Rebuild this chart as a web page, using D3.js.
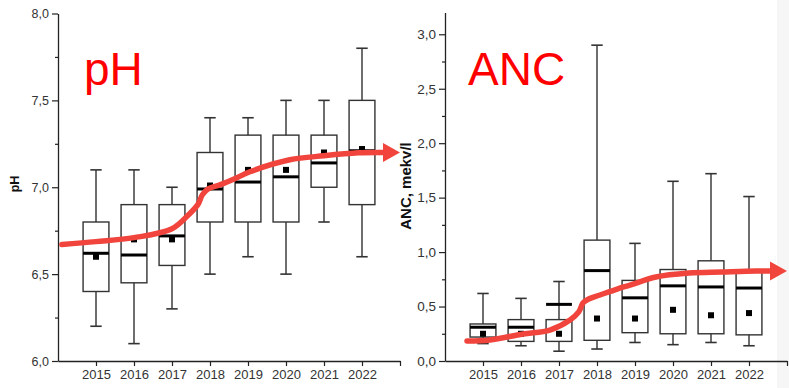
<!DOCTYPE html>
<html>
<head>
<meta charset="utf-8">
<script src="https://cdn.jsdelivr.net/npm/d3@7"></script>
<style>
  html, body { margin: 0; padding: 0; background: #fff; }
  svg { display: block; font-family: "Liberation Sans", Arial, sans-serif; }
</style>
</head>
<body>
<svg id="chart" width="789" height="388"></svg>
<script>
// Sampling years shown on both panels
const years = [2015, 2016, 2017, 2018, 2019, 2020, 2021, 2022];
const yearLabels = ["2015", "2016", "2017", "2018", "2019", "2020", "2021", "2022"];

// pH box statistics per year
const phLow    = [6.2, 6.1, 6.3, 6.5, 6.6, 6.5, 6.8, 6.6];
const phQ1     = [6.4, 6.45, 6.55, 6.8, 6.8, 6.8, 7.0, 6.9];
const phMedian = [6.62, 6.61, 6.72, 6.99, 7.03, 7.06, 7.14, 7.21];
const phQ3     = [6.8, 6.9, 6.9, 7.2, 7.3, 7.3, 7.3, 7.5];
const phHigh   = [7.1, 7.1, 7.0, 7.4, 7.4, 7.5, 7.5, 7.8];
const phMean   = [6.6, 6.7, 6.7, 7.01, 7.1, 7.1, 7.2, 7.22];
const phTicks  = [6.0, 6.5, 7.0, 7.5, 8.0];
const phMinor  = [6.25, 6.75, 7.25, 7.75];

// ANC box statistics per year (mekv/l)
const ancLow    = [0.16, 0.14, 0.09, 0.11, 0.17, 0.15, 0.17, 0.14];
const ancQ1     = [0.22, 0.18, 0.18, 0.19, 0.26, 0.25, 0.25, 0.24];
const ancMedian = [0.31, 0.31, 0.52, 0.83, 0.58, 0.69, 0.68, 0.67];
const ancQ3     = [0.34, 0.38, 0.38, 1.11, 0.74, 0.84, 0.92, 0.83];
const ancHigh   = [0.62, 0.575, 0.73, 2.9, 1.08, 1.65, 1.72, 1.51];
const ancMean   = [0.25, 0.25, 0.25, 0.39, 0.39, 0.47, 0.42, 0.44];
const ancTicks  = [0.0, 0.5, 1.0, 1.5, 2.0, 2.5, 3.0];
const ancMinor  = [0.25, 0.75, 1.25, 1.75, 2.25, 2.75];

// Hand-drawn trend arrows (year, value)
const phTrendYears  = [2014.1, 2015.0, 2016.0, 2017.0, 2017.45, 2017.68, 2017.8, 2017.95, 2018.26, 2018.71, 2019.05, 2020.1, 2021.0, 2021.9, 2022.45];
const phTrendValues = [6.67, 6.687, 6.71, 6.761, 6.845, 6.9, 6.957, 6.991, 7.014, 7.055, 7.089, 7.158, 7.181, 7.198, 7.2];
const ancTrendYears  = [2014.58, 2015.18, 2016.05, 2016.76, 2017.29, 2017.52, 2017.63, 2017.78, 2018.08, 2018.53, 2018.87, 2019.55, 2020.42, 2021.29, 2022.18, 2022.6];
const ancTrendValues = [0.183, 0.193, 0.248, 0.284, 0.376, 0.45, 0.532, 0.569, 0.606, 0.661, 0.697, 0.771, 0.807, 0.817, 0.826, 0.826];

const svg = d3.select("#chart");
const RED = "#f0443c";
const commaFmt = d3.format(".1f");
const fmt = v => commaFmt(v).replace(".", ",");

// faint page edge on the right
svg.append("rect").attr("x", 777).attr("y", 0).attr("width", 12).attr("height", 388).attr("fill", "#f6f6f6");

function panel(cfg) {
  const g = svg.append("g");
  const x = d3.scaleLinear().domain([2014, 2023]).range([cfg.left, cfg.right]);
  const y = d3.scaleLinear().domain(cfg.domain).range([361, cfg.top]);

  // y axis major + minor ticks
  const yAxis = g.append("g").attr("transform", `translate(${cfg.left},0)`)
    .call(d3.axisLeft(y).tickValues(cfg.ticks).tickSize(6).tickSizeOuter(0).tickFormat(fmt));
  yAxis.select(".domain").attr("stroke", "#222").attr("stroke-width", 1.3);
  yAxis.selectAll(".tick line").attr("stroke", "#222").attr("stroke-width", 1.2);
  yAxis.selectAll(".tick text").attr("fill", "#333").attr("font-size", cfg.yFont).attr("x", -9);

  const yMinor = g.append("g").attr("transform", `translate(${cfg.left},0)`)
    .call(d3.axisLeft(y).tickValues(cfg.minor).tickSize(3).tickFormat(""));
  yMinor.select(".domain").remove();
  yMinor.selectAll(".tick line").attr("stroke", "#222").attr("stroke-width", 1.2);

  // x axis
  const xAxis = g.append("g").attr("transform", "translate(0,361)")
    .call(d3.axisBottom(x).tickValues(years.concat([2023])).tickSize(5).tickSizeOuter(0)
      .tickFormat(d => { const i = years.indexOf(d); return i >= 0 ? yearLabels[i] : ""; }));
  xAxis.select(".domain").attr("stroke", "#222").attr("stroke-width", 1.3);
  xAxis.selectAll(".tick line").attr("stroke", "#222").attr("stroke-width", 1.2);
  xAxis.selectAll(".tick text").attr("fill", "#333").attr("font-size", 13).attr("y", 9);

  // axis title
  g.append("text")
    .attr("transform", `translate(${cfg.titleX},${cfg.titleY}) rotate(-90)`)
    .attr("text-anchor", "middle")
    .attr("font-weight", "bold")
    .attr("font-size", cfg.titleFont)
    .attr("fill", "#111")
    .text(cfg.title);

  // box plots
  const boxW = 0.68, capW = 0.3;
  const boxes = g.append("g");
  years.forEach((yr, i) => {
    const b = boxes.append("g");
    // whiskers
    b.append("line").attr("x1", x(yr)).attr("x2", x(yr)).attr("y1", y(cfg.high[i])).attr("y2", y(cfg.q3[i]))
      .attr("stroke", "#4a4a4a").attr("stroke-width", 1.6);
    b.append("line").attr("x1", x(yr)).attr("x2", x(yr)).attr("y1", y(cfg.q1[i])).attr("y2", y(cfg.low[i]))
      .attr("stroke", "#4a4a4a").attr("stroke-width", 1.6);
    b.append("line").attr("x1", x(yr - capW / 2)).attr("x2", x(yr + capW / 2)).attr("y1", y(cfg.high[i])).attr("y2", y(cfg.high[i]))
      .attr("stroke", "#333").attr("stroke-width", 1.6);
    b.append("line").attr("x1", x(yr - capW / 2)).attr("x2", x(yr + capW / 2)).attr("y1", y(cfg.low[i])).attr("y2", y(cfg.low[i]))
      .attr("stroke", "#333").attr("stroke-width", 1.6);
    // box
    b.append("rect").attr("x", x(yr - boxW / 2)).attr("width", x(yr + boxW / 2) - x(yr - boxW / 2))
      .attr("y", y(cfg.q3[i])).attr("height", y(cfg.q1[i]) - y(cfg.q3[i]))
      .attr("fill", "none").attr("stroke", "#333").attr("stroke-width", 1.4);
    // median
    b.append("line").attr("x1", x(yr - boxW / 2)).attr("x2", x(yr + boxW / 2)).attr("y1", y(cfg.median[i])).attr("y2", y(cfg.median[i]))
      .attr("stroke", "#000").attr("stroke-width", 3);
    // mean
    b.append("rect").attr("x", x(yr) - 3).attr("y", y(cfg.mean[i]) - 3).attr("width", 6).attr("height", 6).attr("fill", "#000");
  });

  // big red label
  g.append("text").attr("x", cfg.labelX).attr("y", 85).attr("fill", "#ff0000")
    .attr("font-size", 46).text(cfg.label);

  // trend arrow
  const pts = cfg.trendX.map((t, i) => [x(t), y(cfg.trendY[i])]);
  const tip = [x(2023), pts[pts.length - 1][1]];
  g.append("path").attr("d", d3.line().curve(d3.curveCatmullRom.alpha(0.5))(pts))
    .attr("fill", "none").attr("stroke", RED).attr("stroke-width", 5.5).attr("stroke-linecap", "round");
  const base = tip[0] - 17;
  g.append("path").attr("d", `M${tip[0]},${tip[1]}L${base},${tip[1] - 9.5}L${base},${tip[1] + 9.5}Z`).attr("fill", RED);
  // connect curve end to arrow base
  g.append("line").attr("x1", pts[pts.length - 1][0]).attr("x2", base + 1).attr("y1", pts[pts.length - 1][1]).attr("y2", tip[1])
    .attr("stroke", RED).attr("stroke-width", 5.5);
}

panel({
  left: 58, right: 400, top: 13.5, domain: [6, 8],
  ticks: phTicks, minor: phMinor, yFont: 12.5,
  title: "pH", titleX: 19, titleY: 184, titleFont: 12.5,
  low: phLow, q1: phQ1, median: phMedian, q3: phQ3, high: phHigh, mean: phMean,
  label: "pH", labelX: 84,
  trendX: phTrendYears, trendY: phTrendValues
});

panel({
  left: 445, right: 787, top: 12.5, domain: [0, 3.2],
  ticks: ancTicks, minor: ancMinor, yFont: 13.5,
  title: "ANC, mekv/l", titleX: 411, titleY: 186, titleFont: 15,
  low: ancLow, q1: ancQ1, median: ancMedian, q3: ancQ3, high: ancHigh, mean: ancMean,
  label: "ANC", labelX: 468,
  trendX: ancTrendYears, trendY: ancTrendValues
});
</script>
</body>
</html>
